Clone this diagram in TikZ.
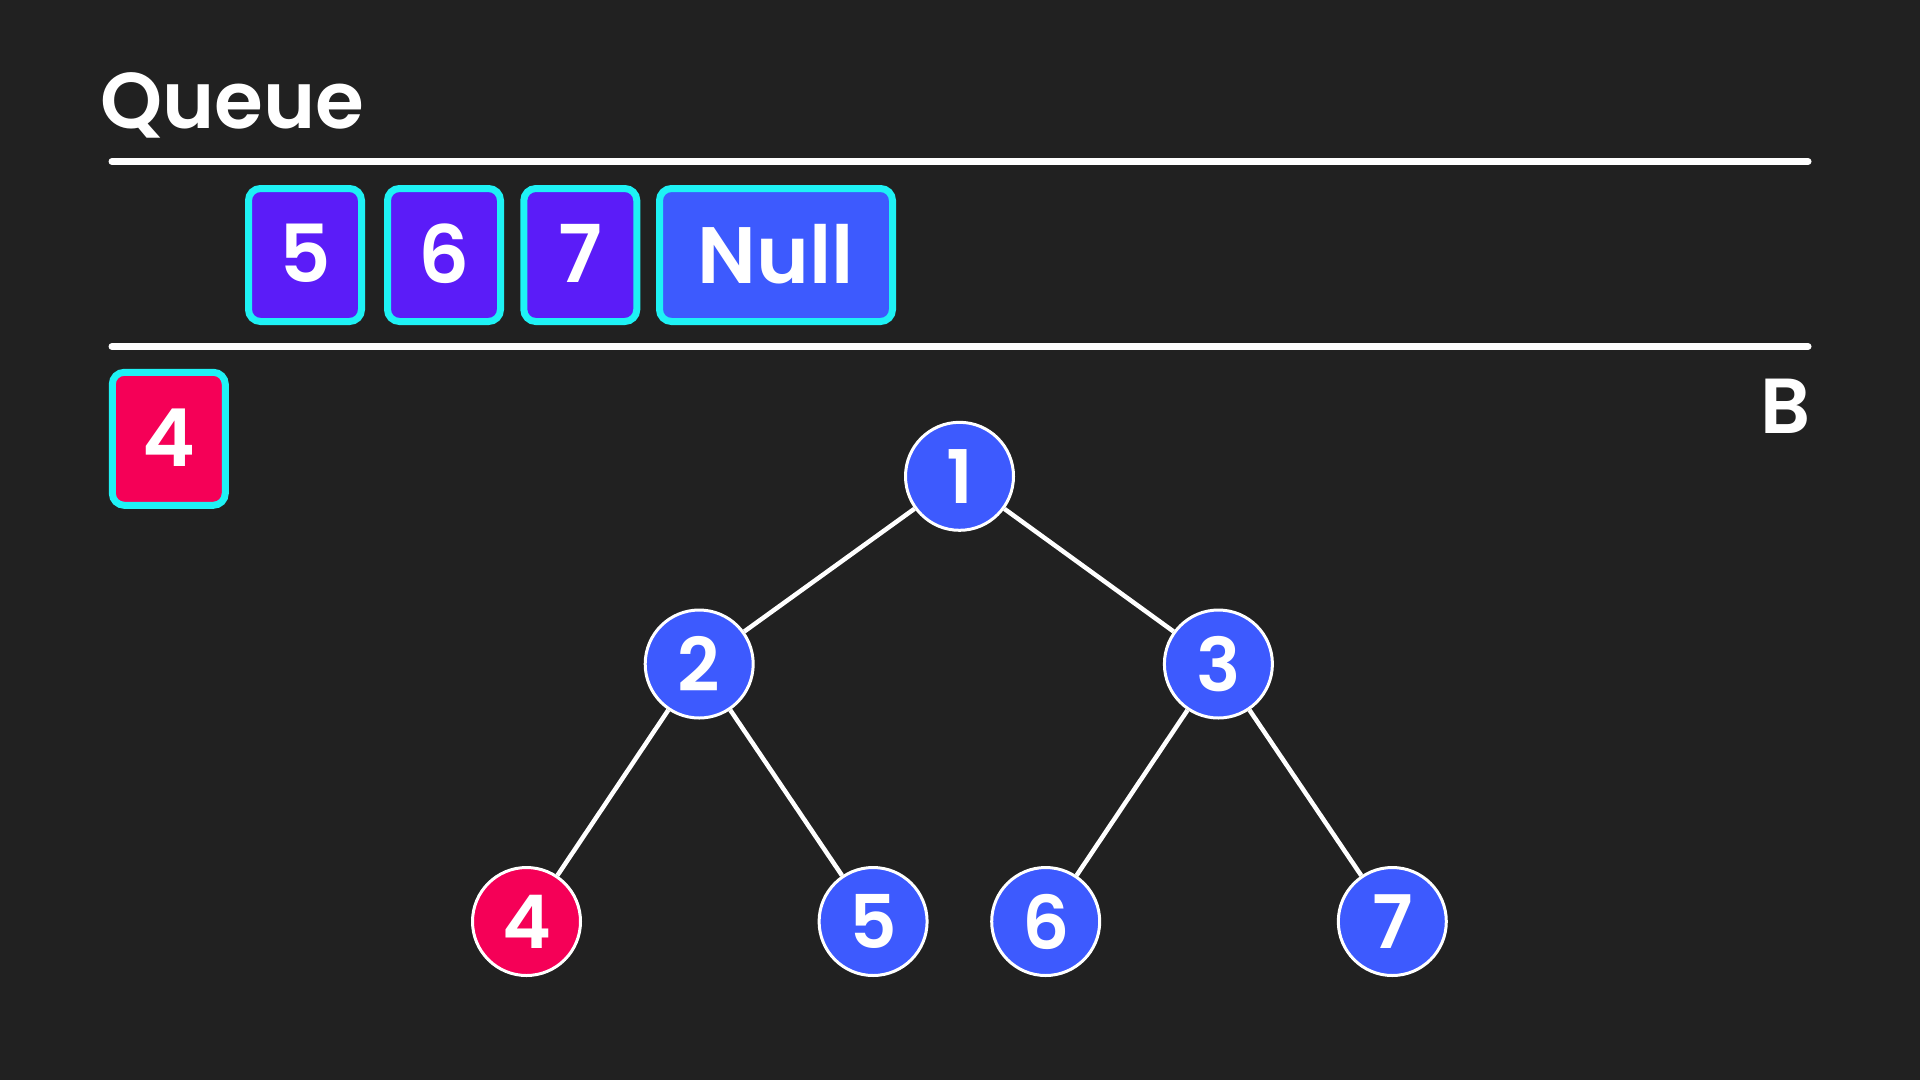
\documentclass[tikz,border=0pt]{standalone}
\usepackage{fontspec}
\setmainfont{Poppins}[BoldFont={Poppins SemiBold}]
\definecolor{bg}{HTML}{212121}
\definecolor{qpurple}{HTML}{5B1CF8}
\definecolor{qblue}{HTML}{3D5AFE}
\definecolor{qred}{HTML}{F50057}
\definecolor{qcyan}{HTML}{1EF2F5}
\tikzset{
  qbox/.style={draw=qcyan, line width=7pt, rounded corners=12pt, fill=qpurple,
    minimum width=113pt, minimum height=133pt, inner sep=0pt, text=white,
    font=\fontsize{80}{80}\selectfont\bfseries},
  tnode/.style={circle, draw=white, line width=3pt, fill=qblue, minimum size=108pt,
    inner sep=0pt, text=white, font=\fontsize{74}{74}\selectfont\bfseries},
  edge/.style={draw=white, line width=4.5pt},
  rule/.style={draw=white, line width=7pt, line cap=round}
}
\begin{document}
\begin{tikzpicture}[x=1pt,y=-1pt]
\fill[bg] (0,0) rectangle (1920,1080);
\useasboundingbox (0,0) rectangle (1920,1080);
\node[anchor=base west, text=white, inner sep=0pt, font=\fontsize{79}{79}\selectfont\bfseries] (title) at (100,128) {Queue};
\coordinate (l1a) at (112,161.5); \coordinate (l1b) at (1808,161.5);
\coordinate (l2a) at (112,346.5); \coordinate (l2b) at (1808,346.5);
\draw[rule] (l1a) -- (l1b);
\draw[rule] (l2a) -- (l2b);
\node[qbox] (q5) at (305,255) {\raisebox{3pt}{5}};
\node[qbox] (q6) at (444,255) {\raisebox{3pt}{6}};
\node[qbox] (q7) at (580.3,255) {\raisebox{3pt}{7}};
\node[qbox, fill=qblue, minimum width=233pt] (qnull) at (776,255) {\raisebox{3pt}{Null}};
\node[qbox, fill=qred] (cur) at (168.8,438.8) {\raisebox{3pt}{4}};
\node[anchor=base east, text=white, inner sep=0pt, font=\fontsize{78}{78}\selectfont\bfseries] (blabel) at (1811,433) {B};
\node[tnode] (n1) at (959.5,476.3) {1};
\node[tnode] (n2) at (699.2,664) {2};
\node[tnode] (n3) at (1218.4,664) {3};
\node[tnode, fill=qred] (n4) at (526.5,921.5) {4};
\node[tnode] (n5) at (873.1,921.5) {5};
\node[tnode] (n6) at (1045.7,921.5) {6};
\node[tnode] (n7) at (1392.3,921.5) {7};
\draw[edge] (n1) -- (n2);
\draw[edge] (n1) -- (n3);
\draw[edge] (n2) -- (n4);
\draw[edge] (n2) -- (n5);
\draw[edge] (n3) -- (n6);
\draw[edge] (n3) -- (n7);
\end{tikzpicture}
\end{document}
